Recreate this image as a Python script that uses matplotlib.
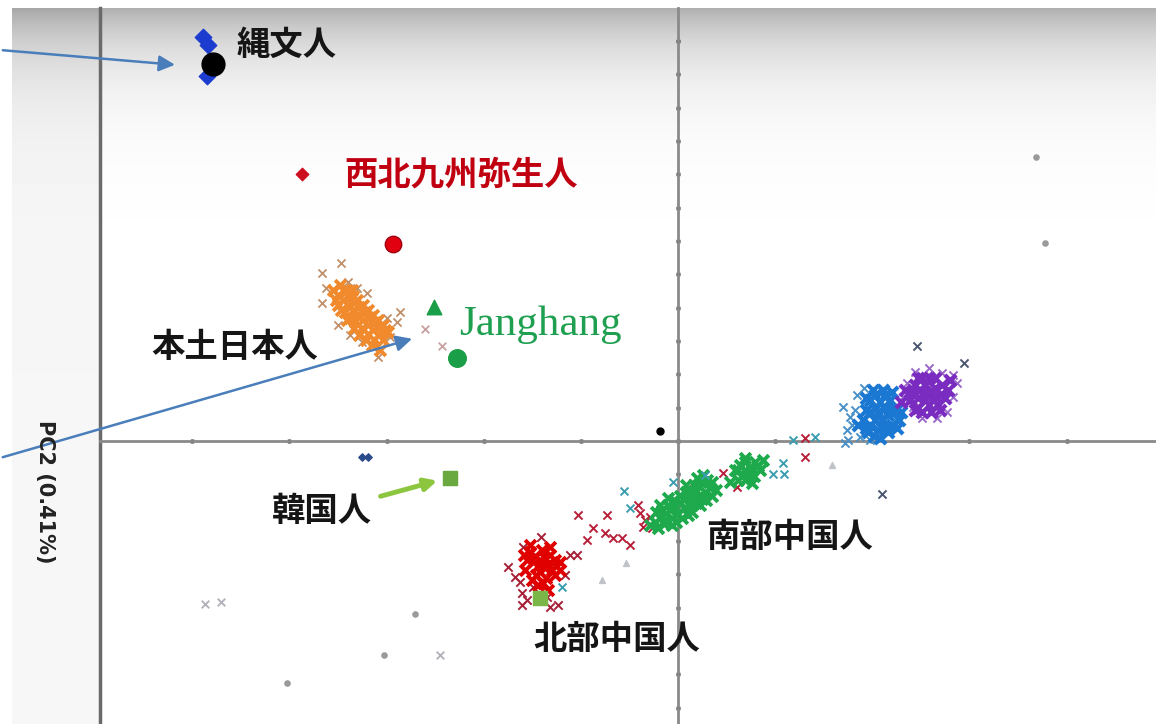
import numpy as np
import matplotlib
matplotlib.use("Agg")
import matplotlib.pyplot as plt

# ─────────────────────────────────────────────
# DATOS  (PC1, PC2 en unidades de 1e-4)
# ─────────────────────────────────────────────
jomon_x = [-479]
jomon_y = [1131]
jomon_ref_x = [-489, -484, -485]
jomon_ref_y = [1212, 1188, 1095]

yayoi_x, yayoi_y = [-387], [801]
yayoi2_x, yayoi2_y = [-293], [591]
jang_tri_x, jang_tri_y = [-251], [402]
jang_circ_x, jang_circ_y = [-228], [249]
jang_near_x = [-260, -243]
jang_near_y = [336, 285]

# 本土日本人
hondo_edge_x = [-366, -347, -340, -362, -366, -350, -338, -325, -309, -297, -286, -289, -300, -320, -330]
hondo_edge_y = [504, 534, 477, 459, 414, 348, 318, 297, 252, 312, 387, 357, 369, 444, 459]
hondo_core_x = [-355, -350, -345, -340, -335, -330, -324, -319, -314, -309, -304, -343, -338, -333,
                -328, -322, -317, -312, -307, -350, -343, -338, -332, -325, -319, -313, -302, -336,
                -348, -341, -335, -330, -324, -319, -314, -309, -304, -299, -352, -347, -341, -334,
                -328, -321, -315, -307]
hondo_core_y = [453, 438, 423, 408, 393, 378, 363, 348, 333, 318, 303, 447, 432, 417,
                402, 387, 372, 357, 342, 408, 387, 369, 357, 339, 321, 303, 333, 453,
                468, 453, 435, 423, 408, 393, 378, 363, 348, 327, 423, 393, 363, 339,
                318, 303, 288, 273]

# 北部中国人
north_edge_x = [-175, -141, -160, -116, -111, -104, -161, -161, -132, -124, -168, -149, -135, -163, -155]
north_edge_y = [-378, -288, -318, -402, -342, -342, -456, -492, -498, -492, -408, -438, -468, -423, -477]
north_core_x = [-152, -147, -142, -137, -132, -127, -144, -137, -130, -142, -149, -134, -126, -155,
                -140, -132, -146, -136, -122, -139, -158, -150, -144, -127, -122, -152, -134, -159]
north_core_y = [-333, -345, -357, -351, -342, -357, -375, -381, -387, -393, -363, -369, -375, -357,
                -327, -318, -402, -411, -363, -426, -387, -417, -432, -402, -387, -312, -447, -342]
chain_x = [-103, -73, -88, -94, -75, -67, -58, -49, -39, -34, -29, -36, -41, -27, 46, 15, 61, 131, 131]
chain_y = [-222, -222, -261, -297, -276, -291, -291, -312, -216, -237, -228, -258, -192, -261,
           -96, -126, -138, 9, -48]

# 南部中国人
south_x = [-24, -19, -13, -8, -3, 2, 7, 12, 18, 23, 28, 33, -16, -10, -4, 2, 8, 14, 21, -6, 0, 6, 12,
           19, 25, -14, -23, 30, 35, -29, 10, -2, 16, 24,
           -21, -13, -6, 4, 14, 23, 29, 35, 39, 8, -10, -19, 20, 26,
           59, 64, 69, 74, 79, 84, 66, 72, 78, 62, 87, 69, 54, 76, 69, 76, 82, 62, 69]
south_y = [-243, -231, -219, -207, -195, -183, -171, -159, -147, -138, -153, -141, -207, -192, -177,
           -165, -153, -177, -168, -231, -219, -201, -195, -186, -174, -249, -213, -117, -165, -252,
           -222, -243, -132, -123,
           -261, -237, -252, -231, -213, -192, -177, -123, -147, -132, -171, -192, -111, -102,
           -87, -72, -63, -78, -63, -87, -105, -99, -105, -117, -57, -51, -123, -126, -87, -87, -75,
           -87, -117]
teal_x = [-56, -49, -5, 28, 98, 108, 109, 141, 118, -119]
teal_y = [-150, -201, -123, -102, -99, -66, -99, 12, 3, -438]

# 東アジア（青・紫）
blue_core_x = [198, 203, 208, 213, 206, 198, 203, 210, 216, 220, 213, 206, 198, 193, 224, 218, 227,
               196, 208, 201, 211, 190, 194, 202, 216, 225, 229, 220, 194, 185, 212, 204, 218]
blue_core_y = [123, 138, 117, 99, 87, 87, 63, 63, 78, 48, 39, 33, 48, 93, 93, 123, 63, 27, 9, 153,
               153, 63, 39, 15, 27, 39, 87, 147, 129, 48, 135, 99, 93]
blue_edge_x = [170, 177, 174, 172, 184, 191, 198, 187, 179, 175, 182]
blue_edge_y = [102, 72, 33, -6, 138, 159, 3, 12, 48, 3, 93]
purple_core_x = [244, 249, 254, 260, 265, 270, 262, 254, 247, 258, 268, 275, 241, 251, 265, 272,
                 260, 247, 234, 229, 239, 244, 251, 270, 278, 280, 258, 247, 265, 254]
purple_core_y = [168, 153, 168, 147, 159, 138, 123, 123, 129, 108, 108, 129, 144, 189, 189, 168,
                 87, 99, 153, 117, 123, 93, 87, 93, 153, 183, 189, 189, 135, 147]
purple_edge_x = [244, 258, 272, 283, 287, 283, 277, 267, 251, 242, 232, 236]
purple_edge_y = [207, 219, 204, 198, 174, 132, 87, 69, 69, 102, 132, 174]
dark_x = [246, 294, 210]
dark_y = [285, 234, -159]

# 韓国人 y otros
korea_x, korea_y = [-235], [-111]
korea2_x, korea2_y = [-142], [-471]
odd_x, odd_y = [-325, -319], [-48, -48]
black_dot_x, black_dot_y = [-19], [30]

gray_dot_x = [368, 378, -303, -402, -271]
gray_dot_y = [852, 594, -642, -726, -519]
gray_x_x = [-487, -470, -245]
gray_x_y = [-489, -483, -642]
gray_tri_x = [-54, -78, 159]
gray_tri_y = [-366, -417, -72]

labels = ["縄文人", "西北九州弥生人", "本土日本人", "Janghang", "韓国人", "南部中国人", "北部中国人"]
label_x = [-454, -343, -542, -225, -418, 29, -149]
label_y = [1188, 798, 282, 348, -213, -291, -597]
label_col = ["#151515", "#c00010", "#151515", "#1fa050", "#151515", "#151515", "#151515"]

XLIM = (-595, 492)
YLIM = (-849, 1299)

W, H = 1156, 724
CJK = ["Noto Sans CJK JP", "DejaVu Sans"]

fig = plt.figure(figsize=(W / 100, H / 100), dpi=100)

# fondo degradado (captura de pantalla)
bg = fig.add_axes([0, 0, 1, 1])
yy, xx = np.mgrid[0:H, 0:W]
g = 1 - 0.31 * np.exp(-(yy - 8) / 48.0)
g = np.where((xx >= 12) & (xx < 99), g - 0.035, g)
g = np.where((xx < 12) | (yy < 8), 1.0, g)
bg.imshow(np.clip(g, 0, 1), cmap="gray", vmin=0, vmax=1, aspect="auto", interpolation="bilinear")
bg.axis("off")

ax = fig.add_axes([100 / W, 0, 1 - 100 / W, (H - 8) / H])
ax.set_facecolor("none")
ax.set_xlim(*XLIM)
ax.set_ylim(*YLIM)

for s in ["top", "right"]:
    ax.spines[s].set_visible(False)
ax.spines["left"].set_position(("data", 0))
ax.spines["bottom"].set_position(("data", 0))
for s in ["left", "bottom"]:
    ax.spines[s].set_color("#8a8a8a")
    ax.spines[s].set_linewidth(2)
ax.set_xticks(np.arange(-500, 500, 100))
ax.set_yticks(np.arange(-800, 1300, 100))
ax.tick_params(direction="inout", length=3, width=2.5, color="#333333",
               labelleft=False, labelbottom=False)
ax.axvline(XLIM[0], color="#6a6a6a", lw=2.5, clip_on=False)

# puntos dispersos grises
ax.scatter(gray_dot_x, gray_dot_y, s=14, color="#9a9a9a", zorder=2)
ax.scatter(gray_x_x, gray_x_y, s=30, marker="x", color="#b0b0b8", linewidths=1.3, zorder=2)
ax.scatter(gray_tri_x, gray_tri_y, s=18, marker="^", color="#c0c4c8", zorder=2)

# grupos con cruces
ax.scatter(hondo_edge_x, hondo_edge_y, s=34, marker="x", color="#c0906a", linewidths=1.3, zorder=3)
ax.scatter(hondo_core_x, hondo_core_y, s=60, marker="x", color="#f08a2c", linewidths=2.8, zorder=4)
ax.scatter(jang_near_x, jang_near_y, s=30, marker="x", color="#c8a0a0", linewidths=1.3, zorder=3)

ax.scatter(chain_x, chain_y, s=34, marker="x", color="#b8203a", linewidths=1.4, zorder=3)
ax.scatter(north_edge_x, north_edge_y, s=36, marker="x", color="#a82038", linewidths=1.4, zorder=3)
ax.scatter(north_core_x, north_core_y, s=60, marker="x", color="#e00000", linewidths=2.8, zorder=4)

ax.scatter(south_x, south_y, s=60, marker="x", color="#1eaa4c", linewidths=2.8, zorder=4)
ax.scatter(teal_x, teal_y, s=32, marker="x", color="#3a9eb0", linewidths=1.4, zorder=4)

ax.scatter(blue_edge_x, blue_edge_y, s=34, marker="x", color="#4a90c8", linewidths=1.4, zorder=3)
ax.scatter(blue_core_x, blue_core_y, s=64, marker="x", color="#1a78d2", linewidths=3.0, zorder=4)
ax.scatter(purple_edge_x, purple_edge_y, s=34, marker="x", color="#9a68c8", linewidths=1.4, zorder=3)
ax.scatter(purple_core_x, purple_core_y, s=64, marker="x", color="#7a2cc0", linewidths=3.0, zorder=4)
ax.scatter(dark_x, dark_y, s=34, marker="x", color="#4a5670", linewidths=1.4, zorder=4)

# marcadores individuales
ax.scatter(jomon_ref_x, jomon_ref_y, s=70, marker="D", color="#1c3cd0", zorder=5)
ax.scatter(jomon_x, jomon_y, s=270, color="black", zorder=6)
ax.scatter(yayoi_x, yayoi_y, s=40, marker="D", color="#cc1020", zorder=5)
ax.scatter(yayoi2_x, yayoi2_y, s=140, color="#e00010", edgecolors="#a00010", linewidths=1, zorder=5)
ax.scatter(jang_tri_x, jang_tri_y, s=110, marker="^", color="#1a9e48", zorder=5)
ax.scatter(jang_circ_x, jang_circ_y, s=160, color="#1a9e48", zorder=5)
ax.scatter(korea_x, korea_y, s=110, marker="s", color="#6aa840", zorder=5)
ax.scatter(korea2_x, korea2_y, s=110, marker="s", color="#7ab648", zorder=5)
ax.scatter(odd_x, odd_y, s=14, marker="D", color="#2a4a8a", zorder=5)
ax.scatter(black_dot_x, black_dot_y, s=25, color="black", zorder=5)

# flecha verde 韓国人
ax.annotate("", xy=(korea_x[0] - 10, korea_y[0] - 6), xytext=(-309, -168),
            arrowprops=dict(arrowstyle="-|>", color="#8cc63f", lw=3.5, mutation_scale=18),
            zorder=5)

# etiquetas
for txt, x, y, c in zip(labels, label_x, label_y, label_col):
    if txt == "Janghang":
        ax.text(x, y, txt, color=c, fontsize=31, family="Liberation Serif",
                ha="left", va="center", zorder=7)
    else:
        ax.text(x, y, txt, color=c, fontsize=24, family=CJK, fontweight="bold",
                ha="left", va="center", zorder=7)

# flechas azules añadidas
for start, tgt in [((0.0, 1 - 50 / H), (jomon_x[0] - 36, jomon_y[0] - 3)),
                   ((0.0, 1 - 458 / H), (jang_near_x[0] - 11, jang_near_y[0] - 27))]:
    ax.annotate("", xy=tgt, xycoords="data", xytext=start, textcoords="figure fraction",
                arrowprops=dict(arrowstyle="-|>", color="#4a7ebb", lw=1.8, mutation_scale=24),
                annotation_clip=False, zorder=8)

fig.text(45 / W, 1 - 492 / H, "PC2 (0.41%)", rotation=270, fontsize=15, fontweight="bold",
         color="#222222", ha="center", va="center")

fig.savefig("out.png", dpi=100)
